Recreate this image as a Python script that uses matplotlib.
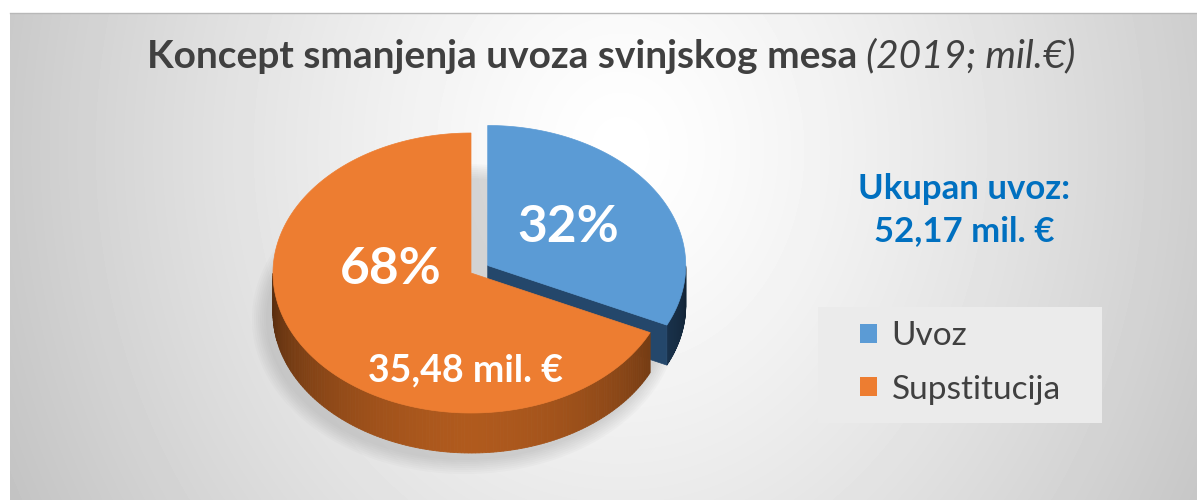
import numpy as np
import matplotlib
matplotlib.use("Agg")
import matplotlib.pyplot as plt
from matplotlib.patches import Polygon, Patch, Ellipse, Rectangle

# data
labels = ["Uvoz", "Supstitucija"]
shares = [32, 68]
values_label = ["", "35,48 mil. €"]
total_text = "Ukupan uvoz:\n52,17 mil. €"
title_main = "Koncept smanjenja uvoza svinjskog mesa"
title_unit = " (2019; mil.€)"

colors = ["#5B9BD5", "#ED7D31"]
side_colors = ["#24476b", "#a8561c"]
explode = [0.1, 0.0]

FONT = "Lato"
W, H = 1197, 500

fig = plt.figure(figsize=(W / 100, H / 100), dpi=100)
ax = fig.add_axes([0, 0, 1, 1])
ax.set_xlim(0, W)
ax.set_ylim(H, 0)
ax.axis("off")

# background: white margin + radial gray gradient panel
yy, xx = np.mgrid[13:H, 10:W]
d = np.sqrt(((xx - 620) / 600.0) ** 2 + ((yy - 150) / 700.0) ** 2)
bg = 1.0 - 0.2 * np.clip(d, 0, 1.3) ** 1.3
ax.imshow(bg, cmap="gray", vmin=0, vmax=1, extent=(10, W, H, 13),
          aspect="auto", interpolation="bilinear", zorder=0)
ax.plot([10, W], [13, 13], color="#b8b8b8", lw=1, zorder=1)

# pie geometry (screen pixels, y down)
cx, cy = 471, 273
rx, ry = 198, 140
depth = 40


def pt(t, ox=0.0, oy=0.0, dz=0.0):
    r = np.radians(t)
    return cx + ox + rx * np.cos(r), cy + oy - ry * np.sin(r) + dz


# soft shadow
for k in range(8):
    ax.add_patch(Ellipse((cx - 6, cy + depth + 6), 2 * rx + 30 - k * 4,
                         2 * ry + 30 - k * 4, color="#7a7a7a", alpha=0.035,
                         lw=0, zorder=2))

start = 90.0
wedges = []
for i, s in enumerate(shares):
    span = s / sum(shares) * 360.0
    a0, a1 = start, start - span
    mid = (a0 + a1) / 2
    ox = explode[i] * rx * np.cos(np.radians(mid))
    oy = -explode[i] * ry * np.sin(np.radians(mid))
    wedges.append((a0, a1, mid, ox, oy))
    start = a1

# draw the exploded (back) wedge first, then the front one
for i in [0, 1]:
    a0, a1, mid, ox, oy = wedges[i]
    z = 3 + i * 3
    base = np.array(matplotlib.colors.to_rgb(side_colors[i]))
    # outer side wall (lower half only is visible)
    angs = np.linspace(a1, a0, 240)
    for t0, t1 in zip(angs[:-1], angs[1:]):
        tm = (t0 + t1) / 2 % 360
        if not (180 <= tm <= 360):
            continue
        f = 0.6 + 0.45 * (-np.sin(np.radians(tm))) - 0.1 * abs(np.cos(np.radians(tm)))
        c = np.clip(base * f, 0, 1)
        p = [pt(t0, ox, oy), pt(t1, ox, oy), pt(t1, ox, oy, depth), pt(t0, ox, oy, depth)]
        ax.add_patch(Polygon(p, closed=True, fc=c, ec=c, lw=0.6, zorder=z))
    # radial face at the clockwise end (faces the viewer)
    if i == 0:
        p = [(cx + ox, cy + oy), pt(a1, ox, oy), pt(a1, ox, oy, depth),
             (cx + ox, cy + oy + depth)]
        ax.add_patch(Polygon(p, closed=True, fc=side_colors[i],
                             ec=side_colors[i], lw=0.5, zorder=z))
    # top face
    arc = [pt(t, ox, oy) for t in np.linspace(a0, a1, 300)]
    ax.add_patch(Polygon([(cx + ox, cy + oy)] + arc, closed=True,
                         fc=colors[i], ec=colors[i], lw=0.5, zorder=z + 1))

# labels on the pie
lbl_kw = dict(color="white", fontweight="bold", family=FONT, ha="center",
              va="center", zorder=10)
ax.text(568, 228, f"{shares[0]}%", fontsize=37, **lbl_kw)
ax.text(391, 270, f"{shares[1]}%", fontsize=37, **lbl_kw)
ax.text(466, 370, values_label[1], fontsize=27, **lbl_kw)

# total import text
ax.text(964, 210, total_text, color="#0070C0", fontsize=25, fontweight="bold",
        family=FONT, ha="center", va="center", linespacing=1.35, zorder=10)

# title (bold part + italic part)
t1 = ax.text(147, 56, title_main, fontsize=28, fontweight="bold",
             color="#404040", family=FONT, ha="left", va="center", zorder=10)
fig.canvas.draw()
bb = t1.get_window_extent()
x_end = ax.transData.inverted().transform((bb.x1, 0))[0]
ax.text(x_end, 56, title_unit, fontsize=28, fontstyle="italic",
        color="#404040", family=FONT, ha="left", va="center", zorder=10)

# legend box + legend
ax.add_patch(Rectangle((818, 307), 284, 116, fc="#ebebeb", ec="none", zorder=8))
handles = [Patch(fc=c, ec="none") for c in colors]
leg = ax.legend(handles, labels, loc="center left",
                bbox_to_anchor=(860 / W, 1 - 363 / H),
                bbox_transform=fig.transFigure, prop={"family": FONT, "size": 24},
                frameon=False, handlelength=0.5, handleheight=0.5,
                handletextpad=0.45, labelspacing=0.7, borderpad=0,
                borderaxespad=0)
for txt in leg.get_texts():
    txt.set_color("#404040")
leg.set_zorder(10)

fig.savefig("out.png", dpi=100)
